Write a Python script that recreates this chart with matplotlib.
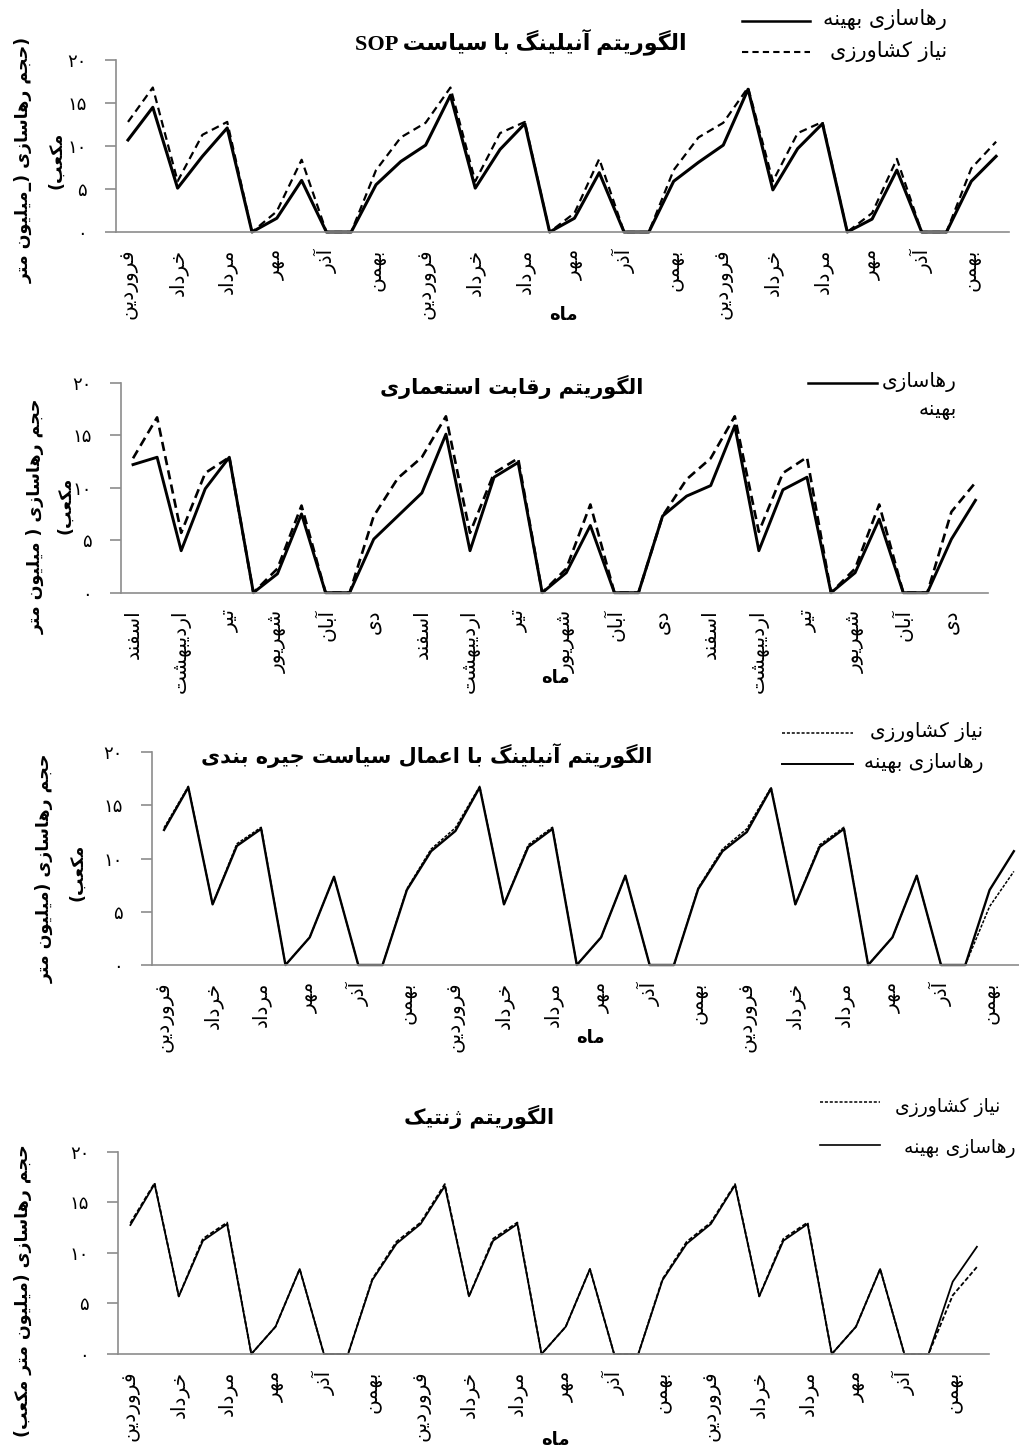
import re
import matplotlib
matplotlib.use('Agg')
import matplotlib.pyplot as plt
from matplotlib.lines import Line2D

W, H = 1019, 1450

# ---------------- data ----------------
months_a = ['فروردین', 'خرداد', 'مرداد', 'مهر', 'آذر', 'بهمن'] * 3
months_b = ['اسفند', 'اردیبهشت', 'تیر', 'شهریور', 'آبان', 'دی'] * 3

sop_release = [10.7, 14.5, 5.1, 8.8, 12.1, 0, 1.6, 6.0, 0, 0, 5.5, 8.2,
               10.1, 15.9, 5.1, 9.6, 12.6, 0, 1.6, 6.9, 0, 0, 5.9, 8.1,
               10.1, 16.6, 4.9, 9.7, 12.6, 0, 1.5, 7.2, 0, 0, 5.9, 8.8]
sop_demand = [12.8, 16.8, 5.9, 11.3, 12.8, 0, 2.4, 8.4, 0, 0, 7.2, 11.0,
              12.7, 16.8, 5.9, 11.5, 12.8, 0, 2.2, 8.5, 0, 0, 7.2, 11.0,
              12.7, 16.8, 5.9, 11.5, 12.8, 0, 2.2, 8.5, 0, 0, 7.4, 10.5]

ica_release = [12.2, 12.9, 4.0, 9.9, 12.9, 0, 1.8, 7.5, 0, 0, 5.1, 7.3,
               9.5, 15.1, 4.0, 11.0, 12.4, 0, 1.9, 6.4, 0, 0, 7.3, 9.2,
               10.2, 15.9, 4.0, 9.8, 11.0, 0, 1.9, 7.0, 0, 0, 5.1, 8.8]
ica_demand = [12.8, 16.7, 5.7, 11.4, 12.9, 0, 2.3, 8.3, 0, 0, 7.3, 10.9,
              12.9, 16.8, 5.7, 11.4, 12.8, 0, 2.3, 8.4, 0, 0, 7.3, 10.8,
              12.8, 16.8, 5.8, 11.4, 12.9, 0, 2.3, 8.4, 0, 0, 7.7, 10.5]

sar_release = [12.7, 16.7, 5.7, 11.2, 12.8, 0, 2.6, 8.3, 0, 0, 7.05, 10.7,
               12.6, 16.7, 5.7, 11.1, 12.8, 0, 2.6, 8.4, 0, 0, 7.15, 10.7,
               12.5, 16.6, 5.7, 11.1, 12.8, 0, 2.6, 8.4, 0, 0, 7.05, 10.7]
sar_demand = [12.9, 16.8, 5.7, 11.4, 12.95, 0, 2.6, 8.3, 0, 0, 7.15, 10.9,
              12.9, 16.8, 5.7, 11.3, 12.95, 0, 2.6, 8.4, 0, 0, 7.25, 10.9,
              12.8, 16.7, 5.7, 11.3, 12.95, 0, 2.6, 8.4, 0, 0, 5.5, 8.8]

ga_release = [12.75, 16.8, 5.7, 11.2, 12.85, 0, 2.7, 8.4, 0, 0, 7.3, 10.9,
              12.85, 16.6, 5.7, 11.2, 12.85, 0, 2.7, 8.4, 0, 0, 7.3, 10.9,
              12.85, 16.7, 5.7, 11.2, 12.85, 0, 2.7, 8.4, 0, 0, 7.15, 10.6]
ga_demand = [12.95, 16.9, 5.7, 11.4, 13.0, 0, 2.7, 8.4, 0, 0, 7.4, 11.1,
             13.0, 16.8, 5.7, 11.4, 13.0, 0, 2.7, 8.4, 0, 0, 7.4, 11.1,
             13.0, 16.8, 5.7, 11.4, 13.0, 0, 2.7, 8.4, 0, 0, 5.8, 8.6]

yticks = [0, 5, 10, 15, 20]
ytick_labels = ['۰', '۵', '۱۰', '۱۵', '۲۰']

# ---------------- minimal Persian shaping ----------------
FORMS = {
    'ا': ('\uFE8D', '\uFE8E', None, None),
    'آ': ('\uFE81', '\uFE82', None, None),
    'ب': ('\uFE8F', '\uFE90', '\uFE91', '\uFE92'),
    'پ': ('\uFB56', '\uFB57', '\uFB58', '\uFB59'),
    'ت': ('\uFE95', '\uFE96', '\uFE97', '\uFE98'),
    'ث': ('\uFE99', '\uFE9A', '\uFE9B', '\uFE9C'),
    'ج': ('\uFE9D', '\uFE9E', '\uFE9F', '\uFEA0'),
    'چ': ('\uFB7A', '\uFB7B', '\uFB7C', '\uFB7D'),
    'ح': ('\uFEA1', '\uFEA2', '\uFEA3', '\uFEA4'),
    'خ': ('\uFEA5', '\uFEA6', '\uFEA7', '\uFEA8'),
    'د': ('\uFEA9', '\uFEAA', None, None),
    'ذ': ('\uFEAB', '\uFEAC', None, None),
    'ر': ('\uFEAD', '\uFEAE', None, None),
    'ز': ('\uFEAF', '\uFEB0', None, None),
    'ژ': ('\uFB8A', '\uFB8B', None, None),
    'س': ('\uFEB1', '\uFEB2', '\uFEB3', '\uFEB4'),
    'ش': ('\uFEB5', '\uFEB6', '\uFEB7', '\uFEB8'),
    'ص': ('\uFEB9', '\uFEBA', '\uFEBB', '\uFEBC'),
    'ض': ('\uFEBD', '\uFEBE', '\uFEBF', '\uFEC0'),
    'ط': ('\uFEC1', '\uFEC2', '\uFEC3', '\uFEC4'),
    'ظ': ('\uFEC5', '\uFEC6', '\uFEC7', '\uFEC8'),
    'ع': ('\uFEC9', '\uFECA', '\uFECB', '\uFECC'),
    'غ': ('\uFECD', '\uFECE', '\uFECF', '\uFED0'),
    'ف': ('\uFED1', '\uFED2', '\uFED3', '\uFED4'),
    'ق': ('\uFED5', '\uFED6', '\uFED7', '\uFED8'),
    'ک': ('\uFB8E', '\uFB8F', '\uFB90', '\uFB91'),
    'گ': ('\uFB92', '\uFB93', '\uFB94', '\uFB95'),
    'ل': ('\uFEDD', '\uFEDE', '\uFEDF', '\uFEE0'),
    'م': ('\uFEE1', '\uFEE2', '\uFEE3', '\uFEE4'),
    'ن': ('\uFEE5', '\uFEE6', '\uFEE7', '\uFEE8'),
    'ه': ('\uFEE9', '\uFEEA', '\uFEEB', '\uFEEC'),
    'و': ('\uFEED', '\uFEEE', None, None),
    'ی': ('\uFBFC', '\uFBFD', '\uFBFE', '\uFBFF'),
}
MIRROR = {'(': ')', ')': '('}


def _dual(c):
    return c in FORMS and FORMS[c][2] is not None


def shape(s):
    out = []
    i = 0
    n = len(s)
    while i < n:
        c = s[i]
        if c not in FORMS:
            out.append(c)
            i += 1
            continue
        prev = s[i - 1] if i > 0 else ''
        jp = _dual(prev)
        nxt = s[i + 1] if i + 1 < n else ''
        if c == 'ل' and nxt in ('ا', 'آ'):
            if nxt == 'ا':
                out.append('\uFEFC' if jp else '\uFEFB')
            else:
                out.append('\uFEF6' if jp else '\uFEF5')
            i += 2
            continue
        jn = _dual(c) and nxt in FORMS
        iso, fin, ini, med = FORMS[c]
        if jp and jn:
            out.append(med)
        elif jp:
            out.append(fin)
        elif jn:
            out.append(ini)
        else:
            out.append(iso)
        i += 1
    return ''.join(out)


def fa(s):
    shaped = shape(s)
    toks = re.findall(r'[A-Za-z0-9]+|[^A-Za-z0-9]+', shaped)
    res = []
    for t in reversed(toks):
        if re.match(r'[A-Za-z0-9]', t):
            res.append(t)
        else:
            res.append(''.join(MIRROR.get(ch, ch) for ch in reversed(t)))
    return ''.join(res)


# ---------------- figure ----------------
plt.rcParams['font.family'] = ['DejaVu Sans']
fig = plt.figure(figsize=(W / 100, H / 100), dpi=100)
fig.patch.set_facecolor('white')


def fx(x):
    return x / W


def fy(y):
    return 1 - y / H


def make_axes(left, top, right, bottom):
    return fig.add_axes([left / W, 1 - bottom / H, (right - left) / W, (bottom - top) / H])


GREY = '#8c8c8c'


def style_axes(ax, labels):
    ax.set_xlim(-0.5, 35.5)
    ax.set_ylim(0, 20)
    for s in ('top', 'right'):
        ax.spines[s].set_visible(False)
    for s in ('left', 'bottom'):
        ax.spines[s].set_color(GREY)
        ax.spines[s].set_linewidth(1.2)
    ax.set_yticks(yticks)
    ax.set_yticklabels(ytick_labels, fontsize=13)
    ax.tick_params(axis='y', direction='out', length=8, width=1.2, color=GREY, pad=13)
    ax.set_xticks(list(range(0, 36, 2)))
    ax.set_xticklabels([fa(m) for m in labels], rotation=90, fontsize=14.5, va='top', ha='center')
    ax.tick_params(axis='x', length=0, pad=12)
    ax.set_facecolor('none')


x = list(range(36))

panels = [
    dict(box=(115.6, 60, 1008.5, 232), rel=sop_release, dem=sop_demand, labels=months_a,
         lw_s=2.2, lw_d=1.6, dash=(3.5, 2.2)),
    dict(box=(121, 382.7, 987.5, 592.7), rel=ica_release, dem=ica_demand, labels=months_b,
         lw_s=2.1, lw_d=1.9, dash=(3.5, 2.0)),
    dict(box=(151.9, 752.3, 1026, 965), rel=sar_release, dem=sar_demand, labels=months_a,
         lw_s=1.7, lw_d=1.1, dash=(2.0, 1.0)),
    dict(box=(118.3, 1151.7, 989, 1354), rel=ga_release, dem=ga_demand, labels=months_a,
         lw_s=1.3, lw_d=1.3, dash=(2.5, 1.2)),
]

for p in panels:
    ax = make_axes(*p['box'])
    ax.plot(x, p['dem'], color='black', lw=p['lw_d'], linestyle=(0, p['dash']), clip_on=False)
    ax.plot(x, p['rel'], color='black', lw=p['lw_s'], clip_on=False)
    style_axes(ax, p['labels'])


def ftext(x, y, s, size, ha='center', va='center', weight='normal', rot=0, family=None):
    kw = {}
    if family:
        kw['family'] = family
    fig.text(fx(x), fy(y), s, fontsize=size, ha=ha, va=va, weight=weight, rotation=rot, **kw)


def fline(x1, x2, y, lw, ls='-'):
    fig.add_artist(Line2D([fx(x1), fx(x2)], [fy(y), fy(y)], color='black', lw=lw, linestyle=ls,
                          transform=fig.transFigure))


# titles
ftext(521, 42, fa('الگوریتم آنیلینگ با سیاست SOP'), 16, weight='bold',
      family=['Liberation Serif', 'DejaVu Sans'])
ftext(512, 387, fa('الگوریتم رقابت استعماری'), 15, weight='bold')
ftext(427, 756, fa('الگوریتم آنیلینگ با اعمال سیاست جیره بندی'), 15, weight='bold')
ftext(479, 1117, fa('الگوریتم ژنتیک'), 15, weight='bold')

# x axis titles
ftext(563, 315, fa('ماه'), 13, weight='bold')
ftext(555, 678, fa('ماه'), 13, weight='bold')
ftext(590, 1038, fa('ماه'), 13, weight='bold')
ftext(555, 1440, fa('ماه'), 13, weight='bold')

# y axis titles
YL = 12.5
ftext(24, 160, fa('(حجم رهاسازی (_میلیون متر'), YL, weight='bold', rot=90)
ftext(56, 160, fa('مکعب)'), YL, weight='bold', rot=90)
ftext(36, 516, fa('حجم رهاسازی ( میلیون متر'), YL, weight='bold', rot=90)
ftext(65, 505, fa('مکعب)'), YL, weight='bold', rot=90)
ftext(45, 868, fa('حجم رهاسازی (میلیون متر'), YL, weight='bold', rot=90)
ftext(77, 872, fa('مکعب)'), YL, weight='bold', rot=90)
ftext(23, 1291, fa('حجم رهاسازی (میلیون متر مکعب)'), YL, weight='bold', rot=90)

# legends
LG = 15
ftext(947, 20, fa('رهاسازی بهینه'), LG, ha='right')
fline(742, 810, 21, 1.8)
ftext(947, 52, fa('نیاز کشاورزی'), LG, ha='right')
fline(742, 810, 52, 1.5, (0, (3.0, 2.0)))

ftext(957, 382, fa('رهاسازی'), 14.5, ha='right')
fline(808, 877, 383, 1.8)
ftext(957, 410, fa('بهینه'), 14.5, ha='right')

ftext(983, 732, fa('نیاز کشاورزی'), 14.5, ha='right')
fline(782, 853, 733, 1.1, (0, (2.0, 1.2)))
ftext(983, 763, fa('رهاسازی بهینه'), 14.5, ha='right')
fline(782, 853, 764, 1.4)

ftext(1000, 1107, fa('نیاز کشاورزی'), 13.5, ha='right')
fline(820, 880, 1102, 1.1, (0, (2.0, 1.2)))
ftext(1015, 1148, fa('رهاسازی بهینه'), 13.5, ha='right')
fline(820, 880, 1145, 1.2)

fig.savefig('out.png', dpi=100, facecolor='white')
